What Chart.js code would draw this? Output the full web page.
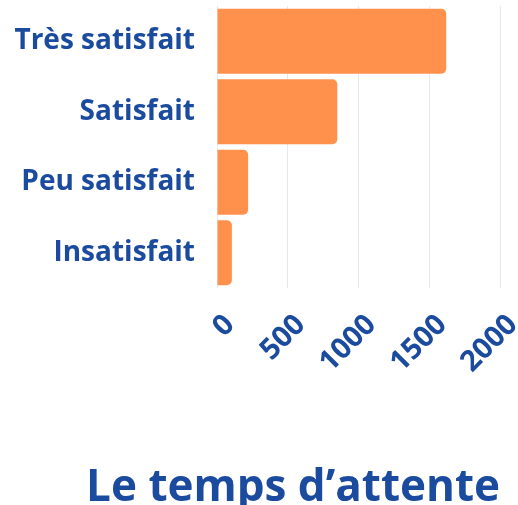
<!DOCTYPE html>
<html>
<head>
<meta charset="utf-8">
<script src="https://cdn.jsdelivr.net/npm/chart.js@4"></script>
<style>
  html, body { margin: 0; padding: 0; background: #fff; overflow: hidden; }
  #wrap { width: 518px; height: 505px; }
</style>
</head>
<body>
<div id="wrap"><canvas id="grafica"></canvas></div>
<script>
const categorias = ['Très satisfait', 'Satisfait', 'Peu satisfait', 'Insatisfait'];
const valores = [1620, 850, 220, 105];
const ticksX = [0, 500, 1000, 1500, 2000];
const titulo = 'Le temps d’attente';

const azul = '#1b4b9e';
const naranja = '#ff914d';
const fuente = "'Open Sans'";

const ctx = document.getElementById('grafica').getContext('2d');
window.myChart = new Chart(ctx, {
    type: 'bar',
    data: {
        labels: categorias,
        datasets: [{
            data: valores,
            backgroundColor: naranja,
            borderRadius: 5,
            borderSkipped: 'start',
            categoryPercentage: 1,
            barPercentage: 0.92
        }]
    },
    options: {
        indexAxis: 'y',
        responsive: true,
        maintainAspectRatio: false,
        animation: false,
        layout: { padding: { top: 6, right: 18, left: 0, bottom: 0 } },
        plugins: {
            legend: { display: false },
            tooltip: { enabled: false },
            title: {
                display: true,
                text: titulo,
                position: 'bottom',
                align: 'end',
                color: azul,
                font: { family: fuente, size: 44, weight: 'bold', lineHeight: 0.75 },
                padding: { top: 10, bottom: 0 }
            }
        },
        scales: {
            x: {
                min: 0,
                max: 2000,
                afterBuildTicks: (scale) => { scale.ticks = ticksX.map(v => ({ value: v })); },
                afterFit: (scale) => {
                    scale.height = 174;
                    scale.paddingLeft = 0;
                    scale.paddingRight = 0;
                },
                grid: { color: '#e4e8f2', drawTicks: false },
                border: { display: false },
                ticks: {
                    color: azul,
                    font: { family: fuente, size: 29, weight: 'bold' },
                    maxRotation: 45,
                    minRotation: 45,
                    padding: 20,
                    labelOffset: 13,
                    callback: (v) => String(v)
                }
            },
            y: {
                afterFit: (scale) => {
                    scale.width = 217;
                    scale.paddingTop = 0;
                    scale.paddingBottom = 0;
                },
                grid: { display: false, drawTicks: false },
                border: { display: false },
                ticks: {
                    color: azul,
                    font: { family: fuente, size: 28, weight: 'bold' },
                    padding: 22
                }
            }
        }
    }
});
</script>
</body>
</html>
